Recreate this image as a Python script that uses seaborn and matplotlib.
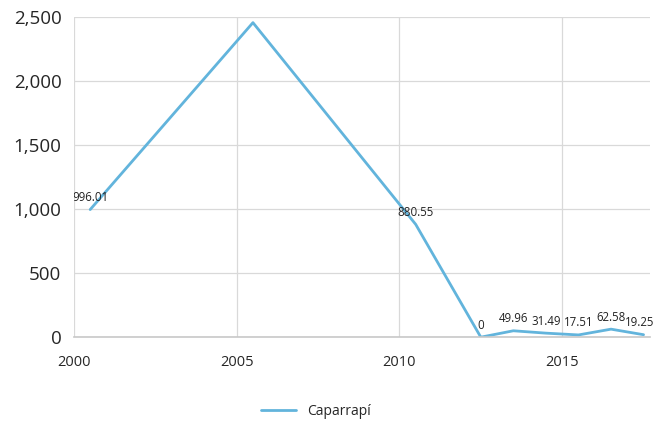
import matplotlib
matplotlib.use("Agg")
import matplotlib.pyplot as plt
from matplotlib.transforms import Bbox, TransformedBbox
import seaborn as sns
import pandas as pd

# Datos de la serie (años a mitad de periodo)
years = [2000.5, 2005.5, 2010.5, 2012.5, 2013.5, 2014.5, 2015.5, 2016.5, 2017.5]
values = [996.01, 2455.0, 880.55, 0, 49.96, 31.49, 17.51, 62.58, 19.25]
series_name = "Caparrapí"
x_ticks = [2000, 2005, 2010, 2015]
y_ticks = [0, 500, 1000, 1500, 2000, 2500]

df = pd.DataFrame({"year": years, "value": values, "serie": series_name})

sns.set_style("white")
plt.rcParams["font.family"] = ["Open Sans", "DejaVu Sans"]

fig = plt.figure(figsize=(6.54, 4.22), dpi=100)
ax = fig.add_axes([0.113, 0.201, 0.881, 0.759])

line_color = "#62b4dc"
sns.lineplot(data=df, x="year", y="value", hue="serie", palette=[line_color],
             linewidth=2, ax=ax, legend=True)

ax.set_xlim(2000, 2017.7)
ax.set_ylim(0, 2500)
ax.set_xticks(x_ticks)
ax.set_yticks(y_ticks)
ax.set_xticklabels([str(t) for t in x_ticks], fontsize=10.5)
ax.set_yticklabels([f"{t:,}" for t in y_ticks], fontsize=13.5)
ax.tick_params(axis="x", length=0, pad=13)
ax.tick_params(axis="y", length=0, pad=9)
ax.set_xlabel("")
ax.set_ylabel("")

ax.grid(True, color="#d9d9d9", linewidth=0.9)
ax.set_axisbelow(True)
for side in ["top", "right", "left"]:
    ax.spines[side].set_visible(False)
ax.spines["bottom"].set_color("#c8c8c8")
ax.spines["bottom"].set_linewidth(1.2)

# Etiquetas de datos: recortadas por la izquierda del eje, libres a la derecha
clip = TransformedBbox(Bbox([[0, -0.2], [1.2, 1.0]]), ax.transAxes)
for i, (x, v) in enumerate(zip(years, values)):
    if v > 2300:
        continue
    lbl = f"{v:g}" if v != int(v) else f"{int(v)}"
    dx = -3 if i == len(years) - 1 else 0  # que no se salga del borde derecho
    t = ax.annotate(lbl, (x, v), xytext=(dx, 4), textcoords="offset points",
                    ha="center", va="bottom", fontsize=8.3, color="#222222",
                    annotation_clip=False)
    t.set_clip_box(clip)
    t.set_clip_on(True)

ax.legend(loc="upper center", bbox_to_anchor=(0.42, -0.17), frameon=False,
          fontsize=10, handlelength=2.5, ncol=1)

fig.savefig("out.png", dpi=100)
